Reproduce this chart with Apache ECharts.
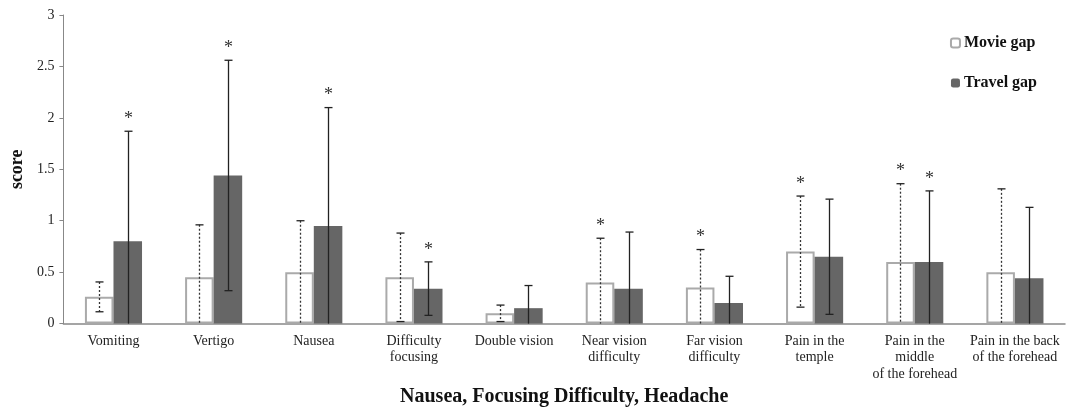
<!DOCTYPE html>
<html>
<head>
<meta charset="utf-8">
<script src="https://cdn.jsdelivr.net/npm/echarts@6/dist/echarts.min.js"></script>
<style>html,body{margin:0;padding:0;background:#fff}#c{width:1066px;height:412px}</style>
</head>
<body>
<div id="c"></div>
<script>
const categories = ['Vomiting','Vertigo','Nausea','Difficulty\nfocusing','Double vision','Near vision\ndifficulty','Far vision\ndifficulty','Pain in the\ntemple','Pain in the\nmiddle\nof the forehead','Pain in the back\nof the forehead'];
const movieMean = [0.26,0.45,0.50,0.45,0.10,0.40,0.35,0.70,0.60,0.50];
const movieSD = [0.145,0.51,0.50,0.43,0.08,0.43,0.37,0.54,0.76,0.81];
const travelMean = [0.80,1.44,0.95,0.34,0.15,0.34,0.20,0.65,0.60,0.44];
const travelSD = [1.07,1.12,1.15,0.26,0.22,0.55,0.26,0.56,0.69,0.69];
const movieSig = [0,0,0,0,0,1,1,1,1,0];
const travelSig = [1,1,1,1,0,0,0,0,1,0];
const yTicks = [0,0.5,1,1.5,2,2.5,3];

const FONT = '"Liberation Serif", "DejaVu Serif", serif';

function errRender(offset, dashed){
  return function(params, api){
    const i = api.value(0), mean = api.value(1), sd = api.value(2), sig = api.value(3);
    const bw = api.size([1,0])[0];
    const top = api.coord([i, mean + sd]);
    const low = Math.max(0, mean - sd);
    const bot = api.coord([i, low]);
    const x = Math.round(top[0] + offset * bw) + 0.5;
    const st = {stroke: dashed ? '#333' : '#222', lineWidth: 1.3, lineDash: dashed ? [2,2] : null};
    const cap = {stroke:'#222', lineWidth:1.3};
    const ch = [
      {type:'line', shape:{x1:x,y1:top[1],x2:x,y2:bot[1]}, style:st},
      {type:'line', shape:{x1:x-4,y1:top[1],x2:x+4,y2:top[1]}, style:cap}
    ];
    if (low > 0) ch.push({type:'line', shape:{x1:x-4,y1:bot[1],x2:x+4,y2:bot[1]}, style:cap});
    if (sig) ch.push({type:'text', style:{text:'*', x:x, y:top[1]-3, align:'center', verticalAlign:'bottom', fontSize:18, fontFamily:FONT, fill:'#333'}});
    return {type:'group', children:ch};
  };
}

const chart = echarts.init(document.getElementById('c'));
chart.setOption({
  animation:false,
  grid:{left:61, right:1, top:15, bottom:83, containLabel:false},
  legend:{
    data:['Movie gap','Travel gap'], orient:'vertical', right:24, top:30, itemGap:24,
    itemWidth:9, itemHeight:9,
    textStyle:{fontFamily:FONT, fontWeight:'bold', fontSize:16, color:'#111', padding:[0,0,0,-1]}
  },
  xAxis:{
    type:'category', data:categories,
    axisLine:{lineStyle:{color:'#888', width:1.5}}, axisTick:{show:false},
    axisLabel:{fontFamily:FONT, fontSize:14, color:'#222', interval:0, lineHeight:16.5, margin:9},
    name:'Nausea, Focusing Difficulty, Headache', nameLocation:'middle', nameGap:61,
    nameTextStyle:{fontFamily:FONT, fontWeight:'bold', fontSize:20, color:'#111'}
  },
  yAxis:{
    type:'value', min:0, max:3, interval:0.5,
    axisLine:{show:true, lineStyle:{color:'#888'}},
    axisTick:{show:true, length:4, lineStyle:{color:'#888'}},
    splitLine:{show:false},
    axisLabel:{fontFamily:FONT, fontSize:14, color:'#222', margin:9, formatter:v=>String(v)},
    name:'score', nameLocation:'middle', nameGap:37,
    nameTextStyle:{fontFamily:FONT, fontWeight:'bold', fontSize:18, color:'#111'}
  },
  series:[
    {name:'Movie gap', type:'bar', data:movieMean, barWidth:'28.5%', barGap:'0%',
     itemStyle:{color:'#fff', borderColor:'#aaa', borderWidth:2}},
    {name:'Travel gap', type:'bar', data:travelMean, barWidth:'28.5%', barGap:'0%',
     itemStyle:{color:'#666'}},
    {type:'custom', z:10, renderItem:errRender(-0.1425, true), encode:{x:0,y:1},
     data:movieMean.map((m,i)=>[i,m,movieSD[i],movieSig[i]])},
    {type:'custom', z:10, renderItem:errRender(0.1425, false), encode:{x:0,y:1},
     data:travelMean.map((m,i)=>[i,m,travelSD[i],travelSig[i]])}
  ]
});
</script>
</body>
</html>
